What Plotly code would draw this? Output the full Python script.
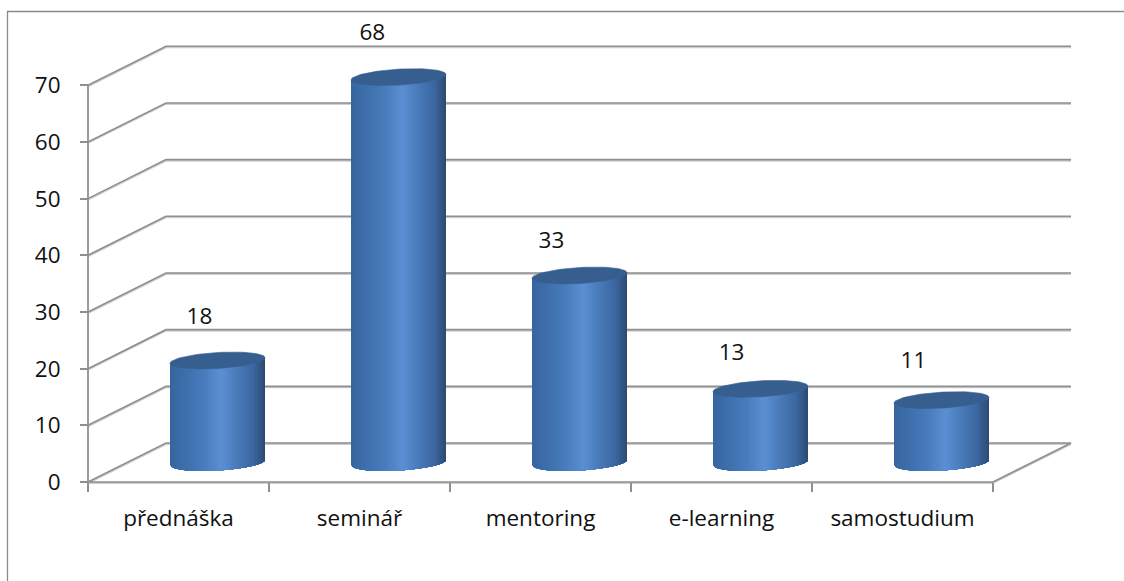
import numpy as np
import plotly.graph_objects as go

# ---- data ----
categories = ["přednáška", "seminář", "mentoring", "e-learning", "samostudium"]
values = [18, 68, 33, 13, 11]
y_ticks = [0, 10, 20, 30, 40, 50, 60, 70]

# ---- label nudges (category units / value units) ----
label_dx = [-0.10, -0.145, -0.155, -0.16, -0.155]
label_dy = [7.4, 7.6, 5.9, 6.1, 6.7]

# ---- geometry ----
W, H = 1124, 581
PX_X0, PX_Y0 = 88, 482          # screen position of the chart's front origin
UX, UY = 181.0, 5.667           # pixels per category, pixels per value unit
DX, DY = 78 / UX, 39 / UY       # depth of the 3-D box, in axis units
A, B = 47.5 / UX, 8.0 / UY      # cylinder ellipse half axes
TILT = (0.058 * UX / UY)        # ellipse tilt (value units per category unit)
N_CAT = len(categories)

GRID = "#8f8f8f"
SHADOW = "#cfcfcf"
FONT = "Open Sans"
FS = 22.5

STOPS_U = [-1.0, -0.75, -0.3, 0.08, 0.45, 0.75, 0.95, 1.0]
STOPS_C = [(0x35, 0x66, 0x9e), (0x3c, 0x6d, 0xa9), (0x47, 0x7b, 0xbb), (0x5a, 0x8f, 0xd3),
           (0x47, 0x78, 0xb6), (0x3b, 0x67, 0xa0), (0x2f, 0x50, 0x7c), (0x2b, 0x49, 0x70)]
TOP_COLOR = "#365f90"


def color_at(u):
    c = [np.interp(u, STOPS_U, [s[k] for s in STOPS_C]) for k in range(3)]
    return "rgb(%d,%d,%d)" % tuple(int(round(v)) for v in c)


fig = go.Figure()


def line_trace(xs, ys, color, width):
    fig.add_trace(go.Scatter(x=xs, y=ys, mode="lines", line=dict(color=color, width=width),
                             hoverinfo="skip", showlegend=False))


# ---- walls and floor ----
gx, gy = [], []
for t in y_ticks:
    gx += [0, DX, N_CAT + DX, None] if t > 0 else [0, DX, N_CAT + DX, N_CAT, 0, None]
    gy += [t, t + DY, t + DY, None] if t > 0 else [0, DY, DY, 0, 0, None]
gx += [0, 0, None]
gy += [0, max(y_ticks), None]
shift = 1.0 / UY
line_trace(gx, [v - shift if v is not None else None for v in gy], SHADOW, 2)
line_trace(gx, gy, GRID, 1.6)

# ---- cylinder sides: painted left to right, each strip reaching the right edge ----
edges = np.linspace(-1, 1, 96)
centers = [i + 0.5 + DX / 2 for i in range(N_CAT)]
base = DY / 2
for u0, u1 in zip(edges[:-1], edges[1:]):
    px, py = [], []
    us = np.linspace(u0, 1, 40)
    for cx, v in zip(centers, values):
        low = base - B * np.sqrt(np.clip(1 - us ** 2, 0, 1)) + TILT * A * us
        up = base + v + TILT * A * us
        px += list(cx + A * us) + list(cx + A * us[::-1]) + [cx + A * us[0], None]
        py += list(low) + list(up[::-1]) + [low[0], None]
    col = color_at((u0 + u1) / 2)
    fig.add_trace(go.Scatter(x=px, y=py, mode="lines", fill="toself", fillcolor=col,
                             line=dict(width=0), hoverinfo="skip", showlegend=False))

# ---- cylinder tops ----
theta = np.linspace(0, 2 * np.pi, 90)
tx, ty = [], []
for cx, v in zip(centers, values):
    tx += list(cx + A * np.cos(theta)) + [None]
    ty += list(base + v + B * np.sin(theta) + TILT * A * np.cos(theta)) + [None]
fig.add_trace(go.Scatter(x=tx, y=ty, mode="lines", fill="toself", fillcolor=TOP_COLOR,
                         line=dict(color=TOP_COLOR, width=0.6), hoverinfo="skip", showlegend=False))

# ---- value labels ----
fig.add_trace(go.Scatter(
    x=[c + d for c, d in zip(centers, label_dx)],
    y=[base + v + d for v, d in zip(values, label_dy)],
    mode="text", text=[str(v) for v in values], textposition="middle center",
    textfont=dict(family=FONT, size=FS, color="#111111"), hoverinfo="skip", showlegend=False))

# ---- axes span the whole page so that the depth offset can be drawn ----
fig.update_layout(
    width=W, height=H, margin=dict(l=0, r=0, t=0, b=0, pad=0),
    paper_bgcolor="white", plot_bgcolor="white", showlegend=False,
    font=dict(family=FONT, size=FS, color="#111111"),
    xaxis=dict(range=[-PX_X0 / UX, (W - PX_X0) / UX], domain=[0, 1], anchor="free",
               position=(H - PX_Y0) / H, showgrid=False, zeroline=False, showline=False,
               tickmode="array", tickvals=[i + 0.5 for i in range(N_CAT)], ticktext=categories,
               ticks="", ticklabelstandoff=20,
               minor=dict(tickmode="array", tickvals=list(range(N_CAT + 1)), ticks="outside",
                          ticklen=9, tickcolor=GRID, tickwidth=1.6, showgrid=False)),
    yaxis=dict(range=[-(H - PX_Y0) / UY, PX_Y0 / UY], domain=[0, 1], anchor="free",
               position=PX_X0 / W, showgrid=False, zeroline=False, showline=False,
               tickmode="array", tickvals=y_ticks, ticks="outside", ticklen=8,
               tickcolor=GRID, tickwidth=1.6, ticklabelstandoff=15),
    shapes=[dict(type="path", xref="paper", yref="paper",
                 path=f"M {7.5/W} 0 L {7.5/W} {1-11.5/H} L 1 {1-11.5/H}",
                 line=dict(color="#8a8a8a", width=1.3))],
)

fig.write_html("out.html", config=dict(displayModeBar=False),
               post_script="document.body.style.margin='0';")
